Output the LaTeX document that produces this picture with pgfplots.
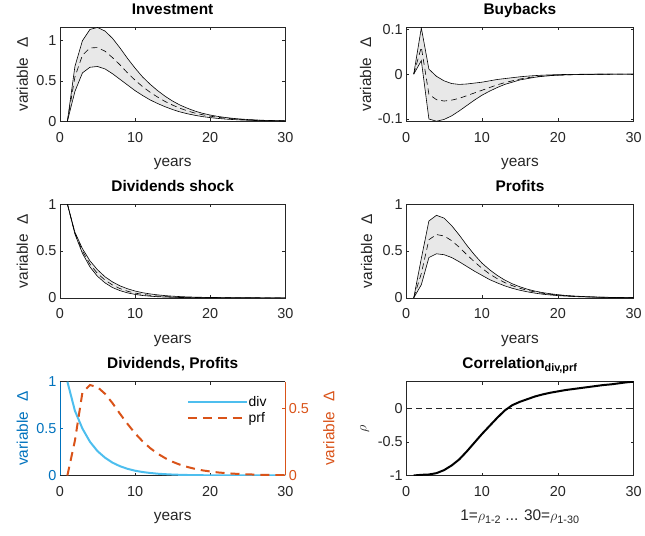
\documentclass[border=0pt]{standalone}
\usepackage{fontspec}
\setmainfont{Liberation Sans}
\usepackage{pgfplots}
\pgfplotsset{compat=1.18}
\usepackage{pgfplotstable}
\usepgfplotslibrary{fillbetween}

\definecolor{axgray}{rgb}{0.15,0.15,0.15}
\definecolor{bandgray}{rgb}{0.91,0.91,0.91}
\definecolor{mblue}{rgb}{0,0.447,0.741}
\definecolor{mlight}{rgb}{0.301,0.745,0.933}
\definecolor{morange}{rgb}{0.85,0.325,0.098}

% impulse responses: lower band, mean, upper band
\pgfplotstableread{
t lo mid hi
1 0 0 0
2 0.37 0.55 0.68
3 0.60 0.82 1.00
4 0.67 0.91 1.14
5 0.68 0.915 1.165
6 0.65 0.87 1.12
7 0.59 0.79 1.03
8 0.52 0.70 0.91
9 0.45 0.60 0.78
10 0.38 0.51 0.66
11 0.32 0.43 0.55
12 0.265 0.36 0.46
13 0.22 0.30 0.38
14 0.18 0.245 0.31
15 0.145 0.20 0.25
16 0.115 0.16 0.20
17 0.092 0.128 0.16
18 0.073 0.10 0.125
19 0.057 0.08 0.098
20 0.045 0.063 0.077
21 0.035 0.049 0.06
22 0.027 0.038 0.047
23 0.021 0.03 0.036
24 0.016 0.023 0.028
25 0.012 0.018 0.021
26 0.009 0.014 0.016
27 0.007 0.010 0.012
28 0.005 0.008 0.009
29 0.004 0.006 0.007
30 0.003 0.004 0.005
}\invest

\pgfplotstableread{
t lo mid hi
1 0 0 0
2 0.030 0.060 0.103
3 -0.100 -0.045 0.011
4 -0.105 -0.057 -0.005
5 -0.101 -0.060 -0.015
6 -0.093 -0.058 -0.021
7 -0.082 -0.054 -0.023
8 -0.070 -0.048 -0.022
9 -0.058 -0.042 -0.020
10 -0.047 -0.036 -0.018
11 -0.038 -0.030 -0.015
12 -0.030 -0.024 -0.012
13 -0.023 -0.019 -0.010
14 -0.018 -0.015 -0.008
15 -0.013 -0.011 -0.006
16 -0.010 -0.008 -0.0045
17 -0.007 -0.006 -0.0033
18 -0.005 -0.0045 -0.0024
19 -0.0035 -0.0033 -0.0017
20 -0.0025 -0.0024 -0.0012
21 -0.0018 -0.0017 -0.0008
22 -0.0013 -0.0012 -0.0006
23 -0.0009 -0.0009 -0.0004
24 -0.0006 -0.0006 -0.0003
25 -0.0004 -0.0004 -0.0002
26 -0.0003 -0.0003 -0.0001
27 -0.0002 -0.0002 -0.0001
28 -0.0001 -0.0001 0
29 -0.0001 -0.0001 0
30 0 0 0
}\buyback

\pgfplotstableread{
t lo mid hi
1 1 1 1
2 0.68 0.69 0.70
3 0.475 0.50 0.525
4 0.33 0.36 0.395
5 0.23 0.26 0.30
6 0.16 0.19 0.225
7 0.11 0.137 0.17
8 0.077 0.099 0.128
9 0.053 0.071 0.097
10 0.037 0.051 0.073
11 0.025 0.037 0.055
12 0.018 0.027 0.042
13 0.012 0.019 0.032
14 0.0085 0.014 0.024
15 0.006 0.010 0.018
16 0.004 0.0072 0.0135
17 0.0028 0.0052 0.010
18 0.002 0.0037 0.0077
19 0.0013 0.0027 0.0058
20 0.0009 0.0019 0.0044
21 0.0006 0.0014 0.0033
22 0.0004 0.001 0.0025
23 0.0003 0.0007 0.0019
24 0.0002 0.0005 0.0014
25 0.0001 0.0004 0.0011
26 0.0001 0.0003 0.0008
27 0.0001 0.0002 0.0006
28 0 0.0001 0.0005
29 0 0.0001 0.0004
30 0 0.0001 0.0003
}\divshock

\pgfplotstableread{
t lo mid hi
1 0 0 0
2 0.14 0.26 0.42
3 0.43 0.62 0.82
4 0.47 0.675 0.88
5 0.46 0.66 0.85
6 0.43 0.61 0.77
7 0.385 0.54 0.67
8 0.335 0.46 0.56
9 0.285 0.385 0.46
10 0.24 0.315 0.37
11 0.195 0.255 0.30
12 0.16 0.205 0.24
13 0.128 0.163 0.19
14 0.102 0.13 0.15
15 0.081 0.102 0.118
16 0.064 0.080 0.092
17 0.05 0.063 0.072
18 0.039 0.049 0.056
19 0.031 0.038 0.044
20 0.024 0.03 0.034
21 0.019 0.023 0.026
22 0.015 0.018 0.02
23 0.011 0.014 0.016
24 0.009 0.011 0.012
25 0.007 0.0085 0.009
26 0.0053 0.0066 0.007
27 0.004 0.005 0.0055
28 0.003 0.004 0.004
29 0.0024 0.003 0.003
30 0.0018 0.0023 0.0025
}\profits

% correlation between dividends and profits by horizon
\pgfplotstableread{
t rho
1 -1.0
2 -0.99
3 -0.985
4 -0.965
5 -0.92
6 -0.85
7 -0.76
8 -0.64
9 -0.51
10 -0.38
11 -0.26
12 -0.14
13 -0.03
14 0.05
15 0.10
16 0.14
17 0.18
18 0.21
19 0.235
20 0.255
21 0.275
22 0.29
23 0.305
24 0.32
25 0.335
26 0.35
27 0.36
28 0.375
29 0.39
30 0.40
}\corr

\pgfplotsset{
  panel/.style={
    scale only axis, width=226bp, height=94bp, anchor=south west,
    xmin=0, xmax=30, xtick={0,10,20,30},
    axis line style={axgray, line width=0.5bp},
    tick style={axgray, line width=0.5bp},
    major tick length=3bp,
    tick align=inside,
    ticklabel style={font=\fontsize{14.5}{16}\selectfont, text=axgray},
    /pgf/number format/assume math mode=true,
    xticklabel style={anchor=base, yshift=-21bp},
    title style={font=\bfseries\fontsize{15.5}{18}\selectfont,
      at={(axis description cs:0.5,1)}, anchor=base, yshift=7bp},
    label style={font=\fontsize{15.5}{18}\selectfont, text=axgray},
    xlabel style={at={(axis description cs:0.5,0)}, anchor=base, yshift=-45.5bp},
    xlabel={years},
    ylabel={variable\hspace{10bp}Δ},
  },
  ylabpos/.style={ylabel style={at={(axis description cs:#1,0.5)}, anchor=base}},
  band/.style={black, line width=0.6bp},
  meanline/.style={black, line width=0.6bp, dash pattern=on 6bp off 4bp},
}

\begin{document}
\begin{tikzpicture}

% Investment
\begin{axis}[panel, ylabpos=-0.1416, at={(60bp,415bp)},
  ymin=0, ymax=1.165, ytick={0,0.5,1}, title={Investment}]
\addplot[draw=none, name path=hi] table[x=t, y=hi] {\invest};
\addplot[draw=none, name path=lo] table[x=t, y=lo] {\invest};
\addplot[bandgray] fill between[of=hi and lo];
\addplot[band] table[x=t, y=hi] {\invest};
\addplot[band] table[x=t, y=lo] {\invest};
\addplot[meanline] table[x=t, y=mid] {\invest};
\end{axis}

% Buybacks
\begin{axis}[panel, ylabpos=-0.1535, at={(407bp,415bp)}, width=228bp,
  ymin=-0.105, ymax=0.104, ytick={-0.1,0,0.1}, title={Buybacks}]
\addplot[draw=none, name path=hi] table[x=t, y=hi] {\buyback};
\addplot[draw=none, name path=lo] table[x=t, y=lo] {\buyback};
\addplot[bandgray] fill between[of=hi and lo];
\addplot[band] table[x=t, y=hi] {\buyback};
\addplot[band] table[x=t, y=lo] {\buyback};
\addplot[meanline] table[x=t, y=mid] {\buyback};
\end{axis}

% Dividends shock
\begin{axis}[panel, ylabpos=-0.1416, at={(60bp,238bp)},
  ymin=0, ymax=1, ytick={0,0.5,1}, title={Dividends shock}]
\addplot[draw=none, name path=hi] table[x=t, y=hi] {\divshock};
\addplot[draw=none, name path=lo] table[x=t, y=lo] {\divshock};
\addplot[bandgray] fill between[of=hi and lo];
\addplot[band] table[x=t, y=hi] {\divshock};
\addplot[band] table[x=t, y=lo] {\divshock};
\addplot[meanline] table[x=t, y=mid] {\divshock};
\end{axis}

% Profits
\begin{axis}[panel, ylabpos=-0.15, at={(407bp,238bp)}, width=228bp,
  ymin=0, ymax=1, ytick={0,0.5,1}, title={Profits}]
\addplot[draw=none, name path=hi] table[x=t, y=hi] {\profits};
\addplot[draw=none, name path=lo] table[x=t, y=lo] {\profits};
\addplot[bandgray] fill between[of=hi and lo];
\addplot[band] table[x=t, y=hi] {\profits};
\addplot[band] table[x=t, y=lo] {\profits};
\addplot[meanline] table[x=t, y=mid] {\profits};
\end{axis}

% Dividends and profits, two y axes
\begin{axis}[panel, ylabpos=-0.1416, at={(60bp,60bp)},
  axis y line*=left, axis x line*=box,
  y axis line style={mblue}, ytick style={mblue},
  yticklabel style={text=mblue}, ylabel style={text=mblue},
  ymin=0, ymax=1, ytick={0,0.5,1}, title={Dividends, Profits}]
\addplot[mlight, line width=2bp] table[x=t, y=mid] {\divshock};
\end{axis}
\begin{axis}[panel, at={(60bp,60bp)},
  axis y line*=right, axis x line=none, xlabel={},
  y axis line style={morange}, ytick style={morange},
  yticklabel style={text=morange}, ylabel style={text=morange},
  ylabpos=1.2168,
  ymin=0, ymax=0.70, ytick={0,0.5},
  legend style={at={(axis description cs:0.562,0.86)}, anchor=north west,
    draw=none, fill=none, font=\fontsize{14}{16}\selectfont, text=black,
    inner sep=0pt, row sep=3bp,
    nodes={inner sep=1bp}},
  legend cell align=left,
  legend image code/.code={\draw[#1] (0bp,0bp) -- (59bp,0bp);}]
\addlegendimage{mlight, line width=2bp}
\addlegendentry{div}
\addplot[morange, line width=2bp, dash pattern=on 9bp off 6bp] table[x=t, y=mid] {\profits};
\addlegendentry{prf}
\end{axis}

% Correlation
\begin{axis}[panel, ylabpos=-0.175, at={(407bp,60bp)}, width=228bp,
  ymin=-1, ymax=0.40, ytick={-1,-0.5,0},
  title={Correlation\textsubscript{div,prf}},
  ylabel={$\rho$},
  xlabel={1=$\rho$\textsubscript{1-2} ... 30=$\rho$\textsubscript{1-30}}]
\addplot[axgray, line width=0.6bp, dash pattern=on 6bp off 4bp] coordinates {(0,0) (30,0)};
\addplot[black, line width=2bp] table[x=t, y=rho] {\corr};
\end{axis}

% page frame
\path (0,0) rectangle (645bp,532bp);
\end{tikzpicture}
\end{document}
